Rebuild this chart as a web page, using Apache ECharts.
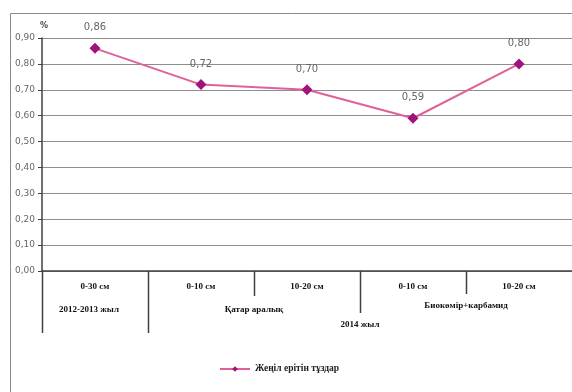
<!DOCTYPE html>
<html>
<head>
<meta charset="utf-8">
<script src="https://cdn.jsdelivr.net/npm/echarts@6/dist/echarts.min.js"></script>
<style>
  html, body { margin: 0; padding: 0; background: #fff; }
  #chart { width: 572px; height: 392px; }
</style>
</head>
<body>
<div id="chart"></div>
<script>
// Soil depth layers (first row of the category axis)
const depths = ['0-30 см', '0-10 см', '10-20 см', '0-10 см', '10-20 см'];
// Easily soluble salts, %
const values = [0.86, 0.72, 0.70, 0.59, 0.80];
const seriesName = 'Жеңіл ерітін тұздар';
// Grouping rows under the depth labels: [label, first index, last index]
const treatmentGroups = [
  ['2012-2013 жыл', 0, 0],
  ['Қатар аралық', 1, 2],
  ['Биокөмір+карбамид', 3, 4]
];
const yearGroups = [
  ['2014 жыл', 1, 4]
];
// Value axis range
const yMin = 0, yMax = 0.9, yStep = 0.1;

const chart = echarts.init(document.getElementById('chart'), null, { renderer: 'canvas' });

const serif = '"Liberation Serif", "Times New Roman", serif';
const sans = '"DejaVu Sans", Verdana, sans-serif';

chart.setOption({
  animation: false,
  backgroundColor: '#fff',
  grid: { left: 42, top: 38, width: 535, height: 233, containLabel: false },
  xAxis: {
    type: 'category',
    data: depths,
    boundaryGap: true,
    axisLine: { lineStyle: { color: '#404040', width: 1.5 } },
    axisTick: { show: false },
    axisLabel: {
      margin: 11,
      fontFamily: serif,
      fontWeight: 'bold',
      fontSize: 9,
      color: '#111'
    }
  },
  yAxis: {
    type: 'value',
    min: yMin,
    max: yMax,
    interval: yStep,
    name: '%',
    nameLocation: 'end',
    nameGap: 8,
    nameTextStyle: { fontFamily: sans, fontWeight: 'bold', fontSize: 8, color: '#444', align: 'left', padding: [0, 0, 0, -2] },
    axisLine: { show: true, lineStyle: { color: '#404040', width: 1.5 } },
    axisTick: { show: true, length: 4, lineStyle: { color: '#404040' } },
    axisLabel: {
      margin: 7,
      fontFamily: sans,
      fontSize: 9,
      color: '#666',
      formatter: v => v.toFixed(2).replace('.', ',')
    },
    splitLine: { lineStyle: { color: '#8e8e8e', width: 1 } }
  },
  legend: {
    left: 214,
    top: 359,
    itemWidth: 30,
    itemHeight: 7,
    itemGap: 4,
    textStyle: { fontFamily: serif, fontWeight: 'bold', fontSize: 9.5, color: '#222' },
    data: [seriesName]
  },
  series: [{
    name: seriesName,
    type: 'line',
    data: values,
    lineStyle: { color: '#e0609a', width: 2 },
    itemStyle: { color: '#a0127c' },
    symbol: 'diamond',
    symbolSize: 11,
    label: {
      show: true,
      position: 'top',
      distance: 10,
      fontFamily: sans,
      fontSize: 10,
      color: '#666',
      formatter: p => p.value.toFixed(2).replace('.', ',')
    }
  }]
});

// Group separators and group labels below the axis, positioned from the axis scale
function drawGroups() {
  const c0 = chart.convertToPixel({ xAxisIndex: 0 }, 0);
  const c1 = chart.convertToPixel({ xAxisIndex: 0 }, 1);
  const band = c1 - c0;
  const axisY = chart.convertToPixel({ yAxisIndex: 0 }, yMin);
  const edge = i => c0 + (i - 0.5) * band; // left boundary of category i
  const els = [];
  const vline = (x, len) => els.push({
    type: 'line',
    shape: { x1: Math.round(x) + 0.5, y1: axisY, x2: Math.round(x) + 0.5, y2: axisY + len },
    style: { stroke: '#404040', lineWidth: 1.5 }
  });
  // boundaries between depth columns inside a group
  vline(edge(2), 25);
  vline(edge(4), 23);
  // boundary between the two 2014 treatments
  vline(edge(3), 42);
  // year boundaries
  vline(edge(0), 62);
  vline(edge(1), 62);

  const text = (str, x, y) => els.push({
    type: 'text',
    x: x, y: y,
    style: {
      text: str, fill: '#111', font: 'bold 9px ' + serif,
      textAlign: 'center', textVerticalAlign: 'middle'
    }
  });
  treatmentGroups.forEach(([label, a, b]) => {
    const cx = (edge(a) + edge(b + 1)) / 2;
    text(label, a === 0 ? cx - 6 : cx, axisY + (a === 3 ? 35 : 39));
  });
  yearGroups.forEach(([label, a, b]) => {
    text(label, (edge(a) + edge(b + 1)) / 2, axisY + 54);
  });

  // outer frame of the figure
  els.push({
    type: 'rect',
    shape: { x: 10.5, y: 13.5, width: 700, height: 500 },
    style: { fill: null, stroke: '#8a8a8a', lineWidth: 1 },
    z: -1
  });
  chart.setOption({ graphic: els });
}
drawGroups();
</script>
</body>
</html>
